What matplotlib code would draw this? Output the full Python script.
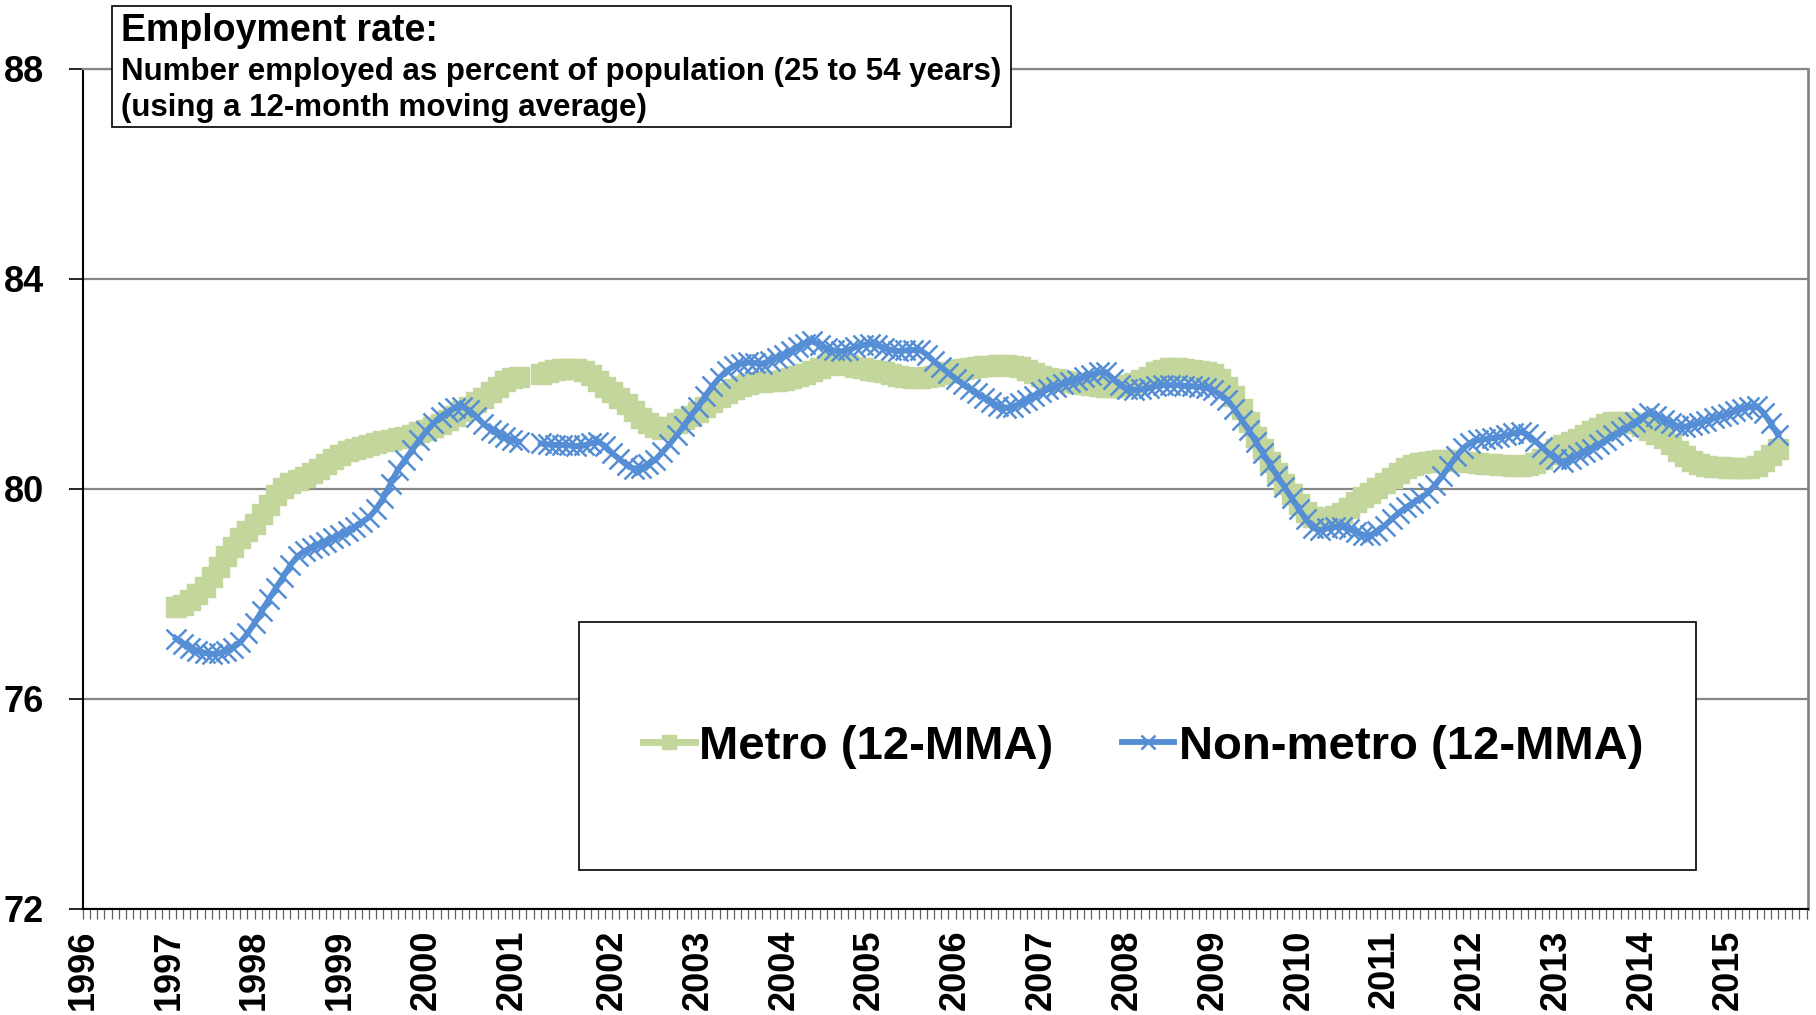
import numpy as np
import matplotlib
matplotlib.use('Agg')
import matplotlib.pyplot as plt
from matplotlib.patches import Rectangle

# monthly categories; data starts at category 13, two blank rows at 62-63
first_cat = 13
n_cats = 242

metro = [
    77.75, 77.80, 77.88, 78.00, 78.14, 78.32, 78.52, 78.72, 78.90, 79.07, 79.20,
    79.34, 79.52, 79.70, 79.88, 80.02, 80.12, 80.18, 80.23, 80.30, 80.39, 80.48, 80.57,
    80.65, 80.73, 80.77, 80.80, 80.84, 80.88, 80.91, 80.94, 80.97, 81.00, 81.03, 81.08,
    81.13, 81.18, 81.24, 81.31, 81.40, 81.48, 81.57, 81.66, 81.74, 81.85, 81.95, 82.05,
    82.11, 82.14, None, None, 82.20, 82.23, 82.26, 82.29, 82.29, 82.28, 82.24, 82.17,
    82.06, 81.95, 81.85, 81.73, 81.61, 81.48, 81.36, 81.26, 81.18, 81.15, 81.18, 81.25,
    81.33, 81.40, 81.47, 81.57, 81.66, 81.75, 81.83, 81.90, 81.96, 82.00, 82.03, 82.04,
    82.05, 82.06, 82.08, 82.11, 82.15, 82.19, 82.24, 82.31, 82.37, 82.40, 82.39, 82.36,
    82.33, 82.30, 82.27, 82.25, 82.22, 82.19, 82.16, 82.13, 82.11, 82.11, 82.13, 82.16,
    82.19, 82.22, 82.26, 82.29, 82.31, 82.33, 82.34, 82.35, 82.36, 82.36, 82.35, 82.32,
    82.27, 82.21, 82.16, 82.12, 82.09, 82.06, 82.04, 82.02, 82.00, 81.98, 81.96, 81.94,
    81.94, 81.96, 81.98, 82.02, 82.08, 82.14, 82.22, 82.27, 82.30, 82.30, 82.29, 82.27,
    82.25, 82.22, 82.19, 82.10, 81.95, 81.78, 81.52, 81.27, 81.00, 80.76, 80.52, 80.31,
    80.10, 79.91, 79.72, 79.56, 79.47, 79.43, 79.43, 79.48, 79.54, 79.64, 79.75, 79.84,
    79.93, 80.02, 80.12, 80.21, 80.30, 80.40, 80.46, 80.50, 80.52, 80.54, 80.55, 80.55,
    80.54, 80.52, 80.51, 80.50, 80.48, 80.47, 80.46, 80.45, 80.44, 80.43, 80.45, 80.50,
    80.57, 80.66, 80.76, 80.84, 80.90, 80.96, 81.03, 81.10, 81.17, 81.23, 81.27, 81.28,
    81.28, 81.26, 81.20, 81.12, 81.05, 80.97, 80.85, 80.72, 80.62, 80.53, 80.47, 80.44,
    80.42, 80.41, 80.40, 80.40, 80.40, 80.40, 80.44, 80.53, 80.64, 80.76,
]

non_metro = [
    77.15, 77.05, 76.98, 76.92, 76.88, 76.86, 76.87, 76.92, 76.98, 77.08, 77.25,
    77.45, 77.68, 77.90, 78.12, 78.33, 78.55, 78.72, 78.82, 78.88, 78.94, 79.00, 79.07,
    79.13, 79.20, 79.28, 79.37, 79.46, 79.62, 79.83, 80.10, 80.36, 80.55, 80.74, 80.93,
    81.10, 81.25, 81.38, 81.47, 81.54, 81.57, 81.50, 81.38, 81.24, 81.13, 81.06, 80.99,
    80.94, 80.90, None, None, 80.87, 80.85, 80.84, 80.84, 80.83, 80.82, 80.83, 80.87,
    80.90, 80.82, 80.68, 80.57, 80.46, 80.39, 80.40, 80.47, 80.55, 80.70, 80.85, 81.02,
    81.20, 81.40, 81.57, 81.77, 81.96, 82.12, 82.25, 82.34, 82.39, 82.41, 82.40, 82.39,
    82.44, 82.50, 82.56, 82.63, 82.71, 82.77, 82.81, 82.75, 82.68, 82.64, 82.62, 82.65,
    82.70, 82.74, 82.77, 82.74, 82.69, 82.65, 82.63, 82.64, 82.65, 82.65, 82.56, 82.43,
    82.32, 82.21, 82.10, 82.00, 81.91, 81.82, 81.74, 81.66, 81.59, 81.55, 81.56, 81.63,
    81.70, 81.78, 81.84, 81.90, 81.95, 82.00, 82.04, 82.08, 82.13, 82.18, 82.22, 82.23,
    82.10, 81.98, 81.91, 81.89, 81.90, 81.93, 81.96, 81.98, 81.98, 81.98, 81.97, 81.96,
    81.95, 81.93, 81.88, 81.80, 81.70, 81.52, 81.32, 81.12, 80.90, 80.68, 80.46, 80.25,
    80.04, 79.83, 79.62, 79.42, 79.26, 79.22, 79.25, 79.28, 79.28, 79.24, 79.18, 79.13,
    79.12, 79.20, 79.30, 79.43, 79.55, 79.65, 79.74, 79.83, 79.92, 80.07, 80.24, 80.43,
    80.62, 80.78, 80.88, 80.93, 80.95, 80.97, 80.99, 81.02, 81.06, 81.09, 81.04, 80.92,
    80.80, 80.67, 80.57, 80.52, 80.58, 80.64, 80.70, 80.77, 80.85, 80.93, 81.02, 81.10,
    81.18, 81.27, 81.36, 81.44, 81.40, 81.32, 81.25, 81.20, 81.19, 81.22, 81.26, 81.30,
    81.35, 81.39, 81.43, 81.48, 81.53, 81.57, 81.58, 81.45, 81.25, 81.03,
]

year_labels = [str(y) for y in range(1996, 2016)]
year_cats = [0, 12, 24, 36, 48, 60, 74, 86, 98, 110, 122, 134, 146, 158,
             170, 182, 194, 206, 218, 230]
y_ticks = [72, 76, 80, 84, 88]

title = 'Employment rate:'
subtitle1 = 'Number employed as percent of population (25 to 54 years)'
subtitle2 = '(using a 12-month moving average)'

W, H = 1816, 1015
narrow = ['Liberation Sans Narrow', 'Liberation Sans', 'DejaVu Sans']
wide = ['Liberation Sans', 'DejaVu Sans']

metro_v = np.array(metro, dtype=float)
non_v = np.array(non_metro, dtype=float)
cats = np.arange(first_cat, first_cat + len(metro_v))

fig = plt.figure(figsize=(W / 100, H / 100), dpi=100)
ax = fig.add_axes([83 / W, 1 - 909 / H, (1808 - 83) / W, (909 - 69) / H])

ax.plot(cats, metro_v, color='#C3D69B', lw=5, marker='s', ms=14,
        mfc='#C3D69B', mec='#C3D69B', zorder=3, label='Metro (12-MMA)')
ax.plot(cats, non_v, color='#558ED5', lw=4.2, marker='x', ms=14, mew=1.8,
        zorder=4, label='Non-metro (12-MMA)')

ax.set_xlim(0, 241.2)
ax.set_ylim(72, 88)
ax.set_yticks(y_ticks)
ax.set_yticklabels([str(v) for v in y_ticks], fontweight='bold',
                   fontsize=26, family=narrow)
ax.yaxis.grid(True, color='#868686', lw=1.6)
ax.set_axisbelow(True)

xt = np.arange(0, n_cats)
labels = ['' for _ in xt]
for c, lab in zip(year_cats, year_labels):
    labels[c] = lab
ax.set_xticks(xt)
ax.set_xticklabels(labels, rotation=90, fontweight='bold', fontsize=26,
                   family=wide)
ax.tick_params(axis='x', length=7, width=0.9, color='#606060', pad=8)
ax.tick_params(axis='y', length=10, width=1.2, pad=18)

for s in ['left', 'bottom']:
    ax.spines[s].set_color('black')
    ax.spines[s].set_linewidth(1.5)
ax.spines['right'].set_color('#868686')
ax.spines['right'].set_linewidth(2)
ax.spines['top'].set_color('#868686')
ax.spines['top'].set_linewidth(1.6)

# title box
fig.add_artist(Rectangle((112 / W, 1 - 127 / H), (1011 - 112) / W, (127 - 6) / H,
                         transform=fig.transFigure, facecolor='white',
                         edgecolor='black', lw=1.2, zorder=10))
fig.text(121 / W, 1 - 31 / H, title, fontsize=27, fontweight='bold',
         family=narrow, va='center', zorder=11)
fig.text(121 / W, 1 - 72 / H, subtitle1, fontsize=22.5, fontweight='bold',
         family=narrow, va='center', zorder=11)
fig.text(121 / W, 1 - 108 / H, subtitle2, fontsize=22.5, fontweight='bold',
         family=narrow, va='center', zorder=11)

# legend box
fig.add_artist(Rectangle((579 / W, 1 - 870 / H), (1696 - 579) / W, (870 - 622) / H,
                         transform=fig.transFigure, facecolor='white',
                         edgecolor='black', lw=1.2, zorder=10))
leg = fig.legend(loc='center', bbox_to_anchor=(1143 / W, 1 - 747 / H), ncol=2,
                 frameon=False, handlelength=1.1, handletextpad=0.1,
                 columnspacing=1.45, markerscale=0.7,
                 prop={'family': narrow, 'weight': 'bold', 'size': 34})
leg.set_zorder(11)

fig.savefig('out.png', dpi=100)
